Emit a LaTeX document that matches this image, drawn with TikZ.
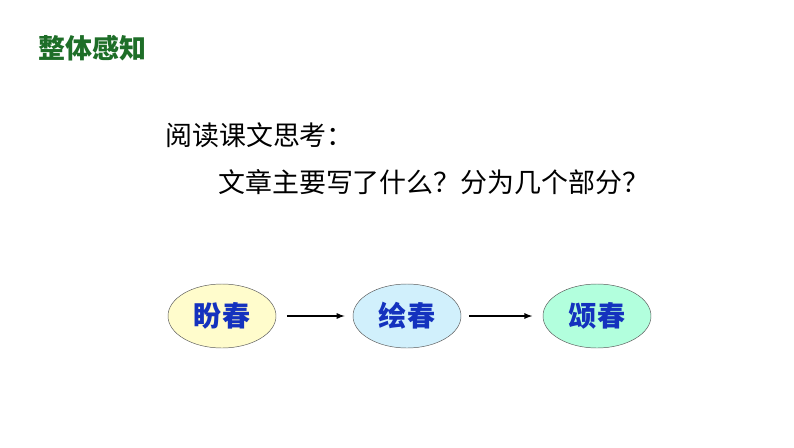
\documentclass[tikz,border=0pt]{standalone}
\usepackage{fontspec}
\setmainfont{Noto Sans CJK SC}
\usetikzlibrary{shapes.geometric, positioning}
\definecolor{titlegreen}{RGB}{30,110,40}
\definecolor{wordblue}{RGB}{20,50,190}
\tikzset{
  stage/.style={ellipse, draw=gray!70!black, thin, minimum width=3.24cm, minimum height=1.92cm, font=\fontsize{24}{24}\selectfont\bfseries, text=wordblue},
  flow/.style={-latex, line width=1.3pt}
}
\begin{document}
\begin{tikzpicture}[x=0.03cm, y=-0.03cm]
\useasboundingbox (0,0) rectangle (794,447);
\node[anchor=west, text=titlegreen, font=\fontsize{23}{23}\selectfont\bfseries, inner sep=0pt] (title) at (38,48) {整体感知};
\node[anchor=west, font=\fontsize{23}{23}\selectfont, inner sep=0pt] (ask) at (165,135) {阅读课文思考：};
\node[anchor=west, font=\fontsize{23}{23}\selectfont, inner sep=0pt] (question) at (218,182) {文章主要写了什么？分为几个部分？};

\node[stage, fill=yellow!20] (pan) at (222,316) {盼春};
\node[stage, fill=cyan!18] (hui) at (407,316) {绘春};
\node[stage, fill=green!45!cyan!30] (song) at (597,316) {颂春};
\draw[flow] ([xshift=9pt]pan.east) -- ([xshift=-7pt]hui.west);
\draw[flow] ([xshift=7pt]hui.east) -- ([xshift=-9pt]song.west);
\end{tikzpicture}
\end{document}
